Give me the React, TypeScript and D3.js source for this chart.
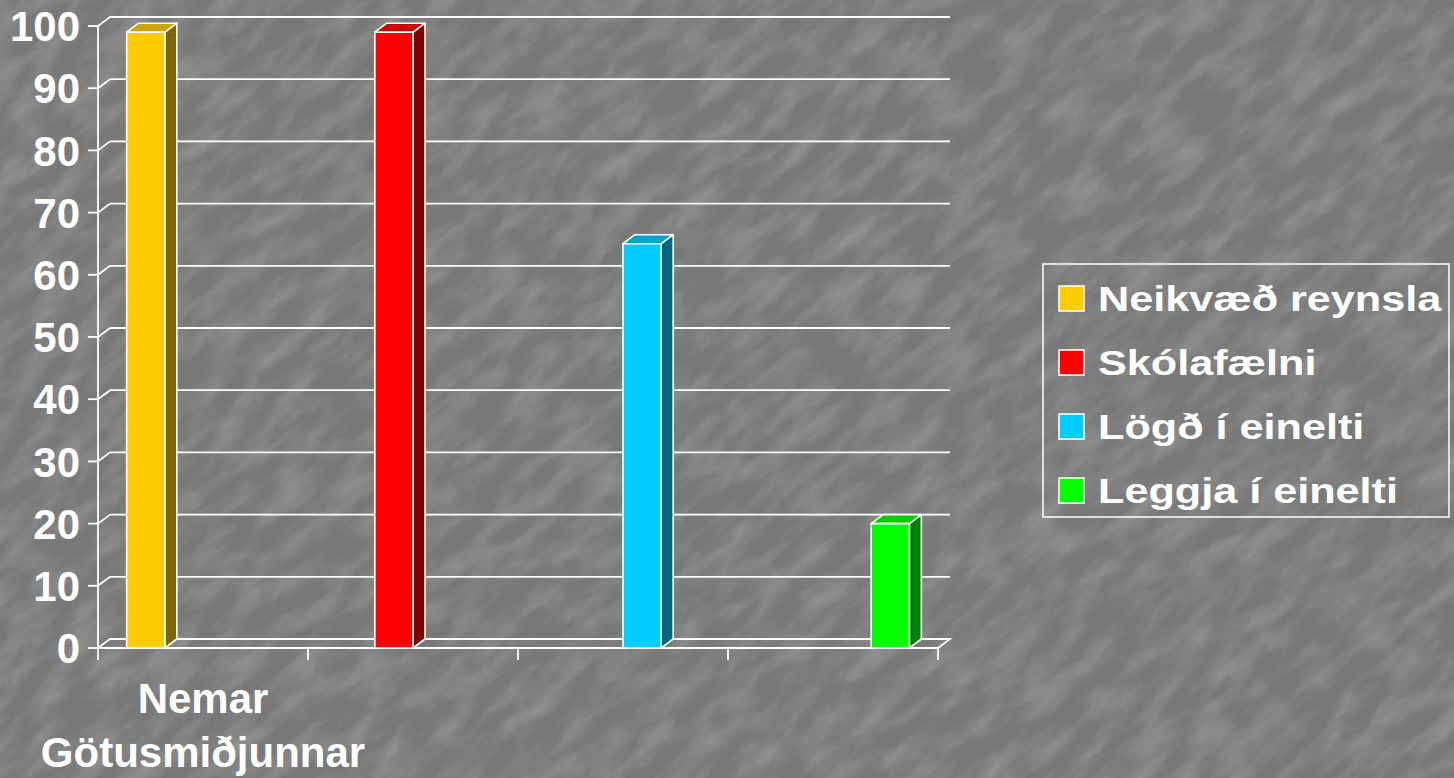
import * as d3 from "d3";

const categories = ["Nemar Götusmiðjunnar", "", "", ""];
const seriesNames = ["Neikvæð reynsla", "Skólafælni", "Lögð í einelti", "Leggja í einelti"];
const seriesValues: (number | null)[][] = [
  [99, null, null, null],
  [null, 99, null, null],
  [null, null, 65, null],
  [null, null, null, 20],
];
const seriesColors = ["#FFCC00", "#FF0000", "#00CCFF", "#00FF00"];
const yTicks = [0, 10, 20, 30, 40, 50, 60, 70, 80, 90, 100];

const W = 1454;
const H = 778;
const DX = 12;
const DY = -9;
const FONT = "'Liberation Sans', Arial, sans-serif";

export default function App() {
  const x = d3.scaleBand<string>().domain(categories.map((_, i) => String(i))).range([98, 938]);
  const xs = d3
    .scaleBand<string>()
    .domain(seriesNames)
    .range([0, x.bandwidth()])
    .paddingInner(0)
    .paddingOuter(0.75);
  const y = d3.scaleLinear().domain([0, 100]).range([648, 26]);
  const bw = xs.bandwidth();
  const y0 = y(0);
  const xL = x.range()[0];
  const xR = x.range()[1];

  const bars: { key: string; x: number; top: number; color: string }[] = [];
  seriesValues.forEach((vals, si) => {
    vals.forEach((v, ci) => {
      if (v == null) return;
      bars.push({
        key: `${si}-${ci}`,
        x: (x(String(ci)) ?? 0) + (xs(seriesNames[si]) ?? 0),
        top: y(v),
        color: seriesColors[si],
      });
    });
  });

  const legendX = 1043;
  const legendY = 264;

  return (
    <div style={{ position: "absolute", left: 0, top: 0 }}>
      <svg width={W} height={H} style={{ display: "block" }}>
        <defs>
          <filter id="tex" x="0" y="0" width="100%" height="100%">
            <feTurbulence type="fractalNoise" baseFrequency="0.02 0.05" numOctaves="4" seed="11" />
            <feColorMatrix
              type="matrix"
              values="0 0 0 0 1  0 0 0 0 1  0 0 0 0 1  0.34 0 0 0 -0.12"
            />
          </filter>
        </defs>
        <rect width={W} height={H} fill="#787878" />
        <g transform={`rotate(-40 ${W / 2} ${H / 2})`}>
          <rect x={-400} y={-600} width={W + 800} height={H + 1200} filter="url(#tex)" />
        </g>

        {/* back wall gridlines */}
        <g stroke="#fff" strokeWidth={1.8}>
          {yTicks
            .filter((t) => t > 0)
            .map((t) => (
              <g key={t}>
                <line x1={xL + DX} x2={xR + DX} y1={y(t) + DY} y2={y(t) + DY} />
                <line x1={xL} x2={xL + DX} y1={y(t)} y2={y(t) + DY} />
              </g>
            ))}
          {/* floor */}
          <polygon
            points={`${xL},${y0} ${xR},${y0} ${xR + DX},${y0 + DY} ${xL + DX},${y0 + DY}`}
            fill="none"
            strokeLinejoin="miter"
          />
          {/* front axis */}
          <line x1={xL} x2={xL} y1={y(100)} y2={y0 + 12} />
          {yTicks.map((t) => (
            <line key={t} x1={xL - 10} x2={xL} y1={y(t)} y2={y(t)} />
          ))}
          {categories.map((_, i) => (
            <line
              key={i}
              x1={xL + i * x.step() + x.step()}
              x2={xL + i * x.step() + x.step()}
              y1={y0}
              y2={y0 + 12}
            />
          ))}
        </g>

        {/* bars */}
        {bars.map((b) => {
          const c = d3.rgb(b.color);
          const side = d3.rgb(c.r * 0.5, c.g * 0.5, c.b * 0.5).formatHex();
          const topc = d3.rgb(c.r * 0.8, c.g * 0.8, c.b * 0.8).formatHex();
          return (
            <g key={b.key} stroke="#fff" strokeWidth={1.6} strokeLinejoin="round">
              <polygon
                points={`${b.x + bw},${b.top} ${b.x + bw + DX},${b.top + DY} ${b.x + bw + DX},${y0 + DY} ${b.x + bw},${y0}`}
                fill={side}
              />
              <polygon
                points={`${b.x},${b.top} ${b.x + DX},${b.top + DY} ${b.x + bw + DX},${b.top + DY} ${b.x + bw},${b.top}`}
                fill={topc}
              />
              <rect x={b.x} y={b.top} width={bw} height={y0 - b.top} fill={b.color} />
            </g>
          );
        })}

        {/* y labels */}
        <g fill="#fff" fontFamily={FONT} fontWeight="bold" fontSize={42} textAnchor="end">
          {yTicks.map((t) => (
            <text key={t} x={80} y={y(t)} dy="0.36em">
              {t}
            </text>
          ))}
        </g>

        {/* category labels */}
        <g fill="#fff" fontFamily={FONT} fontWeight="bold" fontSize={42} textAnchor="middle">
          {categories.map((c, i) =>
            c.split(" ").map((line, li) => (
              <text key={`${i}-${li}`} x={(x(String(i)) ?? 0) + x.bandwidth() / 2} y={713 + li * 54}>
                {line}
              </text>
            ))
          )}
        </g>

        {/* legend */}
        <rect
          x={legendX}
          y={legendY}
          width={406}
          height={253}
          fill="none"
          stroke="#fff"
          strokeWidth={1.5}
        />
        {seriesNames.map((name, i) => (
          <g key={name} transform={`translate(0,${i * 64})`}>
            <rect x={1059} y={286} width={25} height={25} fill={seriesColors[i]} stroke="#fff" strokeWidth={1.6} />
            <text
              transform="translate(1098,311) scale(1.2,1)"
              fill="#fff"
              fontFamily={FONT}
              fontWeight="bold"
              fontSize={36}
            >
              {name}
            </text>
          </g>
        ))}
      </svg>
    </div>
  );
}
